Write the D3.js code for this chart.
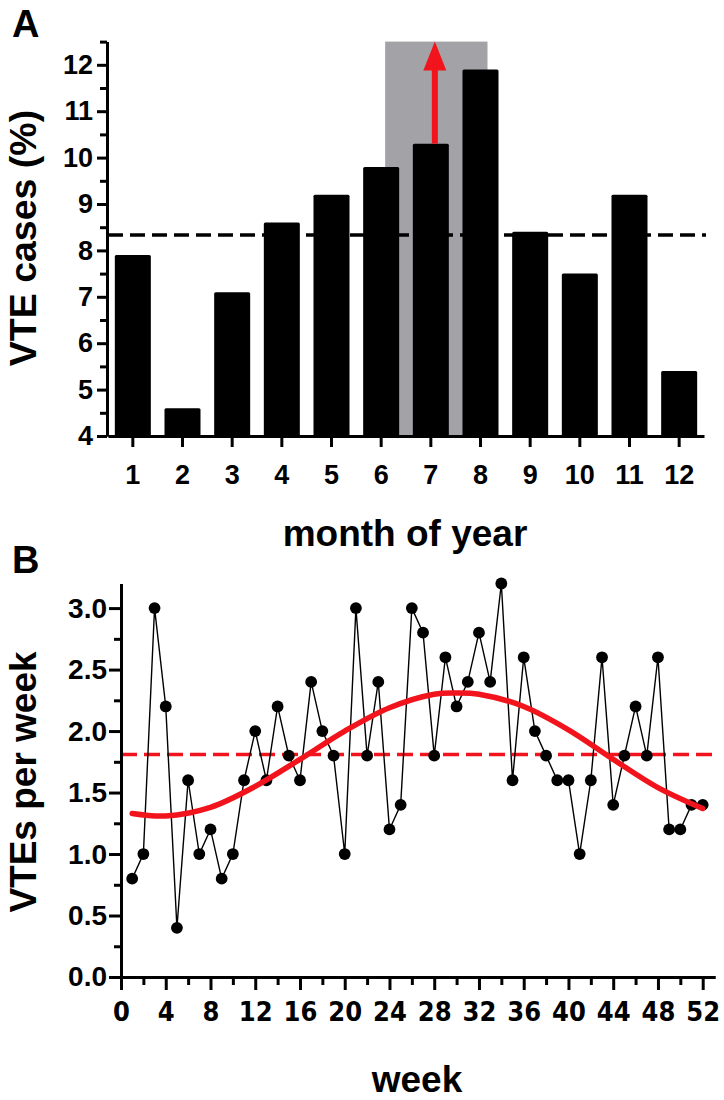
<!DOCTYPE html>
<html>
<head>
<meta charset="utf-8">
<script src="https://cdn.jsdelivr.net/npm/d3@7.9.0/dist/d3.min.js"></script>
<style>
  body { margin: 0; background: #fff; }
  svg { display: block; font-family: "Liberation Sans", Arial, sans-serif; font-weight: bold; }
  .axis path, .axis line { stroke: #000; stroke-width: 3; }
  .axis text { fill: #000; font-weight: bold; font-family: "Liberation Sans", Arial, sans-serif; }
  .narrow text { font-family: "Liberation Sans Narrow", "Arial Narrow", "DejaVu Sans Condensed", sans-serif; }
</style>
</head>
<body>
<svg id="chart" width="724" height="1100"></svg>
<script>
// Panel A: monthly share of VTE cases
const months = [1, 2, 3, 4, 5, 6, 7, 8, 9, 10, 11, 12];
const vtePercent = [7.9, 4.6, 7.1, 8.6, 9.2, 9.8, 10.3, 11.9, 8.4, 7.5, 9.2, 5.4];
const expectedPercent = 8.33; // 100 / 12
const shadedMonths = [6, 8];
const arrowMonth = 7;
const arrowTo = 12.5;
const yTicksA = [4, 5, 6, 7, 8, 9, 10, 11, 12];
const yMinorA = [4.5, 5.5, 6.5, 7.5, 8.5, 9.5, 10.5, 11.5, 12.5];

// Panel B: VTEs per week
const weeks = d3.range(1, 53);
const vtePerWeek = [
  0.8, 1.0, 3.0, 2.2, 0.4, 1.6, 1.0, 1.2, 0.8, 1.0,
  1.6, 2.0, 1.6, 2.2, 1.8, 1.6, 2.4, 2.0, 1.8, 1.0,
  3.0, 1.8, 2.4, 1.2, 1.4, 3.0, 2.8, 1.8, 2.6, 2.2,
  2.4, 2.8, 2.4, 3.2, 1.6, 2.6, 2.0, 1.8, 1.6, 1.6,
  1.0, 1.6, 2.6, 1.4, 1.8, 2.2, 1.8, 2.6, 1.2, 1.2,
  1.4, 1.4
];
const weeklyMean = 1.81;
// seasonal fit
const fitWeeks = [1, 4, 8, 12, 16, 20, 24, 28, 30, 32, 36, 40, 44, 48, 52];
const fitValues = [1.33, 1.31, 1.38, 1.55, 1.77, 2.0, 2.19, 2.3, 2.31, 2.3, 2.2, 2.01, 1.77, 1.54, 1.37];
const xTicksB = [0, 4, 8, 12, 16, 20, 24, 28, 32, 36, 40, 44, 48, 52];
const xMinorB = [2, 6, 10, 14, 18, 22, 26, 30, 34, 38, 42, 46, 50];
const yTicksB = [0, 0.5, 1.0, 1.5, 2.0, 2.5, 3.0];
const yMinorB = [0.25, 0.75, 1.25, 1.75, 2.25, 2.75];

const svg = d3.select("#chart");
const red = "#f2141c";

// ---------- Panel A ----------
const xA = d3.scaleBand()
  .domain(months)
  .range([108, 704])
  .paddingInner(0.275)
  .paddingOuter(0.1375);
const yA = d3.scaleLinear().domain([4, 12.5]).range([436, 41.6]);
const mid = (m) => xA(m) + xA.bandwidth() / 2;

// shaded summer window
svg.append("rect")
  .attr("x", mid(shadedMonths[0]) + 4)
  .attr("y", yA(12.5))
  .attr("width", mid(shadedMonths[1]) - mid(shadedMonths[0]) + 3)
  .attr("height", yA(4) - yA(12.5))
  .attr("fill", "#a2a2a7");

svg.append("g")
  .selectAll("rect")
  .data(months)
  .join("rect")
  .attr("x", (d) => xA(d))
  .attr("y", (d, i) => yA(vtePercent[i]))
  .attr("width", xA.bandwidth())
  .attr("height", (d, i) => yA(4) - yA(vtePercent[i]))
  .attr("rx", 1.5)
  .attr("fill", "#000");

// red arrow from month 7 bar upwards
const ax = mid(arrowMonth) + 4;
const aBase = yA(vtePercent[months.indexOf(arrowMonth)]);
const aTip = yA(arrowTo);
svg.append("line")
  .attr("x1", ax).attr("x2", ax)
  .attr("y1", aBase).attr("y2", aTip + 26)
  .attr("stroke", red)
  .attr("stroke-width", 6);
svg.append("path")
  .attr("d", `M${ax},${aTip} L${ax - 11.5},${aTip + 29} L${ax + 11.5},${aTip + 29} Z`)
  .attr("fill", red);

// expected share line
svg.append("line")
  .attr("x1", 108).attr("x2", 706)
  .attr("y1", yA(expectedPercent)).attr("y2", yA(expectedPercent))
  .attr("stroke", "#000")
  .attr("stroke-width", 3.5)
  .attr("stroke-dasharray", "15,7");

svg.append("g")
  .attr("class", "axis")
  .attr("transform", "translate(107,0)")
  .call(d3.axisLeft(yA).tickValues(yMinorA).tickSize(7).tickSizeOuter(0).tickFormat(""));
svg.append("g")
  .attr("class", "axis")
  .attr("transform", "translate(107,0)")
  .call(d3.axisLeft(yA).tickValues(yTicksA).tickSize(10).tickPadding(4).tickSizeOuter(0))
  .selectAll("text").attr("font-size", 27);

svg.append("g")
  .attr("class", "axis")
  .attr("transform", `translate(0,${yA(4)})`)
  .call(d3.axisBottom(xA).tickSize(11).tickPadding(18).tickSizeOuter(0))
  .selectAll("text").attr("font-size", 27);

svg.append("text")
  .attr("x", 12).attr("y", 37)
  .attr("font-size", 38)
  .text("A");
svg.append("text")
  .attr("transform", "translate(36,238) rotate(-90)")
  .attr("text-anchor", "middle")
  .attr("font-size", 37.5)
  .text("VTE cases (%)");
svg.append("text")
  .attr("x", 405).attr("y", 546)
  .attr("text-anchor", "middle")
  .attr("font-size", 37)
  .text("month of year");

// ---------- Panel B ----------
const xB = d3.scaleLinear().domain([0, 53.1]).range([121, 715]);
const yB = d3.scaleLinear().domain([0, 3.2]).range([977, 583.5]);

svg.append("line")
  .attr("x1", xB(0)).attr("x2", xB(53.1))
  .attr("y1", yB(weeklyMean)).attr("y2", yB(weeklyMean))
  .attr("stroke", red)
  .attr("stroke-width", 3.5)
  .attr("stroke-dasharray", "16,7");

svg.append("path")
  .datum(weeks)
  .attr("fill", "none")
  .attr("stroke", "#000")
  .attr("stroke-width", 1.4)
  .attr("d", d3.line().x((d) => xB(d)).y((d, i) => yB(vtePerWeek[i])));

svg.append("g")
  .selectAll("circle")
  .data(weeks)
  .join("circle")
  .attr("cx", (d) => xB(d))
  .attr("cy", (d, i) => yB(vtePerWeek[i]))
  .attr("r", 5.9)
  .attr("fill", "#000");

svg.append("path")
  .datum(fitWeeks)
  .attr("fill", "none")
  .attr("stroke", red)
  .attr("stroke-width", 5.5)
  .attr("stroke-linecap", "round")
  .attr("d", d3.line().curve(d3.curveCatmullRom).x((d) => xB(d)).y((d, i) => yB(fitValues[i])));

svg.append("g")
  .attr("class", "axis")
  .attr("transform", `translate(${xB(0)},0)`)
  .call(d3.axisLeft(yB).tickValues(yMinorB).tickSize(7).tickSizeOuter(0).tickFormat(""));
svg.append("g")
  .attr("class", "axis")
  .attr("transform", `translate(${xB(0)},0)`)
  .call(d3.axisLeft(yB).tickValues(yTicksB).tickSize(12).tickPadding(2).tickSizeOuter(0).tickFormat(d3.format(".1f")))
  .selectAll("text").attr("font-size", 28);

svg.append("g")
  .attr("class", "axis")
  .attr("transform", `translate(0,${yB(0)})`)
  .call(d3.axisBottom(xB).tickValues(xMinorB).tickSize(8).tickSizeOuter(0).tickFormat(""));
svg.append("g")
  .attr("class", "axis narrow")
  .attr("transform", `translate(0,${yB(0)})`)
  .call(d3.axisBottom(xB).tickValues(xTicksB).tickSize(13).tickPadding(12).tickSizeOuter(0))
  .selectAll("text").attr("font-size", 27);

svg.append("text")
  .attr("x", 12).attr("y", 573)
  .attr("font-size", 38)
  .text("B");
svg.append("text")
  .attr("transform", "translate(36,782) rotate(-90)")
  .attr("text-anchor", "middle")
  .attr("font-size", 37)
  .text("VTEs per week");
svg.append("text")
  .attr("x", 417).attr("y", 1092)
  .attr("text-anchor", "middle")
  .attr("font-size", 37)
  .text("week");
</script>
</body>
</html>
